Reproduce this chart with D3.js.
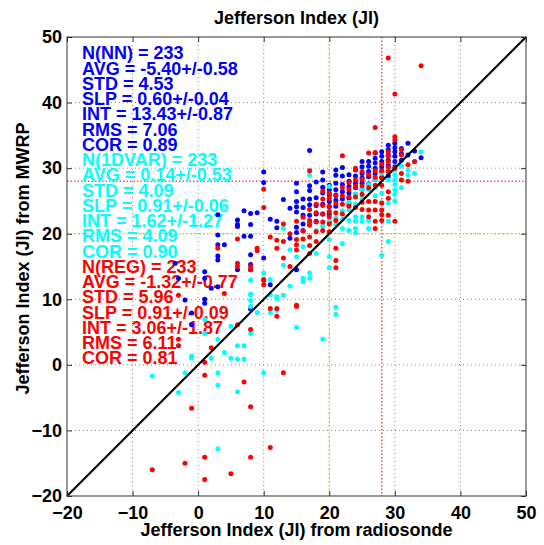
<!DOCTYPE html>
<html>
<head>
<meta charset="utf-8">
<title>Jefferson Index (JI)</title>
<script src="https://cdn.jsdelivr.net/npm/d3@7"></script>
<style>
  body { margin: 0; background: #fff; overflow: hidden; }
  text { font-family: "Liberation Sans", Arial, sans-serif; font-weight: bold; }
</style>
</head>
<body>
<svg width="544" height="545" id="mainsvg"></svg>
<script>
// tick values of both axes
const ticks = [-20, -10, 0, 10, 20, 30, 40, 50];

// reference lines (thresholds)
const yellowLine = 20;
const redLine = 28;

// statistics printed in the upper left
const nnStats = ['N(NN) = 233', 'AVG = -5.40+/-0.58', 'STD = 4.53', 'SLP = 0.60+/-0.04', 'INT = 13.43+/-0.87', 'RMS = 7.06', 'COR = 0.89'];
const dvarStats = ['N(1DVAR) = 233', 'AVG = 0.14+/-0.53', 'STD = 4.09', 'SLP = 0.91+/-0.06', 'INT = 1.62+/-1.27', 'RMS = 4.09', 'COR = 0.90'];
const regStats = ['N(REG) = 233', 'AVG = -1.32+/-0.77', 'STD = 5.96', 'SLP = 0.91+/-0.09', 'INT = 3.06+/-1.87', 'RMS = 6.11', 'COR = 0.81'];

// [radiosonde JI, MWRP JI]
const nnPoints = [
  [-3.5,15.5],[-3,13.2],[-2,9.9],[-1,7.9],[-1,6.1],[1,14.2],[1,13.2],[1,10.0],[1,9.4],[2,11.7],
  [3,22.9],[3,19.8],[3,18.3],[3,16.6],[3,16.0],[3,11.9],[4,18.3],[6,22.1],[6,21.4],[6,21.1],
  [6,14.5],[7,23.5],[7,19.6],[8,23.1],[8,21.4],[8,19.6],[8,16.8],[8,15.3],[8,14.5],[8,8.5],
  [9,23.2],[10,29.4],[10,27.8],[10,16.3],[11,22.2],[11,12.2],[12,21.9],[12,20.9],[13,25.2],[14,23.9],
  [14,19.3],[15,14.5],
  [15,27.7],[15,26.4],[15,24.9],[15,24.1],[15,23.3],[15,21.0],[15,20.2],
  [16,25.3],[16,24.0],[16,22.8],[16,21.5],[16,20.5],
  [17,32.7],[17,27.3],[17,26.6],[17,25.3],[17,24.4],[17,22.8],[17,21.6],
  [18,27.9],[18,25.5],[18,24.3],[18,23.0],[18,21.9],
  [19,29.4],[19,28.2],[19,27.1],[19,26.2],[19,24.5],[19,23.0],
  [20,27.4],[20,26.7],[20,25.9],[20,24.9],[20,24.1],[20,23.0],[20,21.8],
  [21,29.7],[21,28.9],[21,27.7],[21,26.7],[21,25.9],[21,25.1],[21,24.2],
  [22,30.1],[22,28.8],[22,27.5],[22,26.4],[22,25.3],
  [23,29.0],[23,28.0],[23,27.2],[23,26.2],[23,25.4],[23,24.6],
  [24,29.7],[24,28.8],[24,27.7],[24,27.0],[24,26.0],
  [25,31.0],[25,30.2],[25,29.2],[25,28.5],[25,27.7],[25,26.8],
  [26,31.0],[26,30.3],[26,29.5],[26,28.7],[26,27.6],
  [27,32.3],[27,31.5],[27,30.8],[27,30.0],[27,29.2],[27,28.3],
  [28,32.5],[28,31.8],[28,31.0],[28,30.2],[28,29.5],[28,28.6],
  [29,33.5],[29,32.8],[29,32.0],[29,31.2],[29,30.4],[29,29.6],[29,28.8],
  [30,33.8],[30,33.1],[30,32.5],[30,31.8],[30,31.0],[30,30.2],
  [31,33.0],[31,32.2],[31,31.2],[32,33.8],[32,32.0],[33,32.6],[34,31.6]
];

const dvarPoints = [
  [-7,-1.7],[-3,-4.2],[-3,2.9],[-2,-1.2],[-1,1.3],[-1,1.0],[1,6.9],[1,4.8],[2,1.0],[3,3.9],
  [3,-1.2],[3,-3.1],[3,-12.8],[4,1.9],[5,5.9],[5,1.0],[6,2.9],[6,0.9],[6,-4.1],[7,2.9],
  [7,0.9],[8,10.8],[8,9.8],[8,8.9],[8,4.8],[8,12.9],[8,10.7],[9,8.0],[10,-1.2],[10,14.0],
  [10,12.9],[11,13.0],[11,10.7],[11,8.0],[12,10.1],[12,8.3],[12,10.4],[13,10.6],[13,20.8],[13,15.2],
  [14,17.5],[14,12.0],[15,16.5],[15,5.7],[16,13.2],[16,12.7],[16,18.0],
  [17,28.9],[17,21.4],[17,14.0],[17,13.2],[18,20.5],[18,17.0],[19,21.2],[19,20.4],[19,3.9],
  [20,27.2],[20,22.0],[20,19.1],[20,16.5],[20,14.8],[21,22.5],[21,21.4],[21,8.8],[21,7.7],
  [22,23.5],[22,22.2],[22,20.8],[22,18.5],[23,24.8],[23,23.6],[23,22.0],[23,20.5],
  [24,26.0],[24,24.5],[24,22.6],[24,21.9],[24,20.8],[24,20.1],[25,26.8],[25,25.4],[25,22.6],[25,21.9],
  [26,27.5],[26,26.7],[26,22.0],[26,20.8],[27,28.3],[27,27.0],[27,25.8],
  [28,29.2],[28,26.2],[28,24.7],[28,16.7],[29,30.0],[29,28.2],[29,24.7],[29,21.9],[29,18.8],
  [30,29.7],[30,29.0],[30,28.2],[30,27.5],[30,26.7],[30,26.0],[30,25.0],
  [31,30.3],[31,27.0],[32,29.7],[32,29.0],[33,29.2],[33,31.0],[34,32.5]
];

const regPoints = [
  [-7,-16.0],[-2,-15.0],[1,-14.1],[1,-17.5],[5,-16.6],[8,-14.1],[11,-12.6],[-1,-6.6],[1,-1.6],[7,-2.6],
  [8,-6.4],[13,-1.2],[1,0.4],[2,2.6],[4,10.9],[6,6.1],[8,5.4],[-3,3.9],[-3,2.9],[-3,10.6],
  [3,17.8],[6,19.2],[6,15.5],[6,15.0],[8,15.0],[8,14.5],[9,17.8],[9,17.4],[10,26.8],[10,24.0],
  [10,13.0],[10,12.2],[10,12.9],[11,8.6],[11,19.5],[12,19.0],[12,17.8],[12,8.6],[12,7.4],[13,18.8],
  [13,16.3],[13,21.5],[14,20.0],[14,15.0],[15,8.9],
  [15,21.9],[15,19.1],[15,18.3],[15,17.5],[15,9.1],[16,22.5],[16,20.4],[16,19.2],
  [17,29.6],[17,23.7],[17,22.0],[17,21.3],[17,19.5],[17,18.2],[17,17.0],
  [18,24.5],[18,23.2],[18,21.8],[18,20.3],[18,18.8],
  [19,26.5],[19,25.3],[19,24.3],[19,23.0],[19,21.8],[19,20.5],
  [20,26.2],[20,25.4],[20,24.2],[20,23.4],[20,22.6],[20,21.5],[20,20.3],
  [21,25.8],[21,24.6],[21,23.2],[21,22.0],[21,17.8],[21,14.8],[21,15.9],
  [22,31.9],[22,27.0],[22,25.8],[22,24.5],[22,23.0],
  [23,27.8],[23,26.8],[23,25.6],[23,24.2],
  [24,30.0],[24,29.8],[24,28.2],[24,27.2],[24,25.6],[24,24.0],
  [25,29.5],[25,28.3],[25,27.3],[25,26.0],[25,24.8],[25,23.7],
  [26,32.3],[26,29.0],[26,27.0],[26,24.9],[26,23.6],[26,22.6],
  [27,36.2],[27,32.4],[27,29.6],[27,28.6],[27,27.4],[27,24.9],[27,23.6],[27,21.9],[27,20.8],
  [28,30.6],[28,29.6],[28,28.5],[28,27.4],[28,24.7],[28,23.6],[28,22.9],[28,22.0],
  [29,46.8],[29,32.5],[29,31.8],[29,31.0],[29,30.2],[29,29.5],[29,26.4],[29,25.4],[29,22.8],
  [30,41.3],[30,34.8],[30,34.3],[30,30.0],[30,21.9],
  [31,32.8],[31,32.0],[31,29.2],[31,28.2],[32,30.5],[32,28.0],[33,31.0],[34,45.6]
];

const series = [
  { pts: nnPoints, stats: nnStats, color: '#0000ff' },
  { pts: dvarPoints, stats: dvarStats, color: '#00ffff' },
  { pts: regPoints, stats: regStats, color: '#ff0000' }
];

let svg = d3.select('svg');
const margin = { top: 37, left: 67 };
const innerWidth = 459;
const innerHeight = 459;
const g = svg.append('g').attr('transform', `translate(${margin.left}, ${margin.top})`);

const x = d3.scaleLinear().domain([-20, 50]).range([0, innerWidth]);
const y = d3.scaleLinear().domain([-20, 50]).range([innerHeight, 0]);

svg.append('rect').attr('width', 544).attr('height', 545).attr('fill', '#fff').lower();

// dotted grid
const inner = ticks.slice(1, -1);
g.selectAll('.gx').data(inner).join('line')
  .attr('x1', d => x(d)).attr('x2', d => x(d)).attr('y1', 0).attr('y2', innerHeight)
  .attr('stroke', '#888').attr('stroke-dasharray', '1,3');
g.selectAll('.gy').data(inner).join('line')
  .attr('y1', d => y(d)).attr('y2', d => y(d)).attr('x1', 0).attr('x2', innerWidth)
  .attr('stroke', '#888').attr('stroke-dasharray', '1,3');

// threshold lines
const thr = [{ v: yellowLine, c: '#d8d800', w: 1.2 }, { v: redLine, c: '#ff5050', w: 1.6 }];
thr.forEach(t => {
  g.append('line').attr('x1', x(t.v)).attr('x2', x(t.v)).attr('y1', 0).attr('y2', innerHeight)
    .attr('stroke', t.c).attr('stroke-width', t.w).attr('stroke-dasharray', '1.5,2');
  g.append('line').attr('y1', y(t.v)).attr('y2', y(t.v)).attr('x1', 0).attr('x2', innerWidth)
    .attr('stroke', t.c).attr('stroke-width', t.w).attr('stroke-dasharray', '1.5,2');
});

// statistics text
const lines = [];
series.forEach(s => s.stats.forEach(t => lines.push({ t: t, c: s.color })));
g.selectAll('.stat').data(lines).join('text')
  .attr('x', 15).attr('y', (d, i) => 16 + i * 15.25 + 6.3)
  .attr('fill', d => d.c).attr('font-size', 18)
  .text(d => d.t);

// scatter points
series.forEach(s => {
  g.append('g').selectAll('circle').data(s.pts).join('circle')
    .attr('cx', d => x(d[0])).attr('cy', d => y(d[1])).attr('r', 2.5)
    .attr('fill', s.color);
});

// 1:1 line
g.append('line').attr('x1', x(-20)).attr('y1', y(-20)).attr('x2', x(50)).attr('y2', y(50))
  .attr('stroke', '#000').attr('stroke-width', 2.2);

// axes with inward ticks
const axB = g.append('g').attr('transform', `translate(0,${innerHeight})`)
  .call(d3.axisBottom(x).tickValues(ticks).tickSizeInner(-5).tickSizeOuter(0).tickPadding(10));
const axL = g.append('g')
  .call(d3.axisLeft(y).tickValues(ticks).tickSizeInner(-5).tickSizeOuter(0).tickPadding(5));
const axT = g.append('g').call(d3.axisTop(x).tickValues(ticks).tickSizeInner(-5).tickSizeOuter(0));
const axR = g.append('g').attr('transform', `translate(${innerWidth},0)`)
  .call(d3.axisRight(y).tickValues(ticks).tickSizeInner(-5).tickSizeOuter(0));
axT.selectAll('text').remove();
axR.selectAll('text').remove();
g.selectAll('.domain').remove();
g.selectAll('.tick line').attr('stroke', '#333');
[axB, axL].forEach(a => a.selectAll('text')
  .attr('font-size', 18).attr('font-family', '"Liberation Sans", Arial, sans-serif')
  .attr('font-weight', 'bold').attr('fill', '#000'));

g.append('rect').attr('width', innerWidth).attr('height', innerHeight)
  .attr('fill', 'none').attr('stroke', '#333').attr('stroke-width', 1);

// titles
svg.append('text').attr('x', margin.left + innerWidth / 2).attr('y', 24)
  .attr('text-anchor', 'middle').attr('font-size', 18).text('Jefferson Index (JI)');
svg.append('text').attr('x', margin.left + innerWidth / 2).attr('y', 536)
  .attr('text-anchor', 'middle').attr('font-size', 18).text('Jefferson Index (JI) from radiosonde');
svg.append('text').attr('transform', `translate(29, ${margin.top + innerHeight / 2 - 8}) rotate(-90)`)
  .attr('text-anchor', 'middle').attr('font-size', 18).text('Jefferson Index (JI) from MWRP');
</script>
</body>
</html>
